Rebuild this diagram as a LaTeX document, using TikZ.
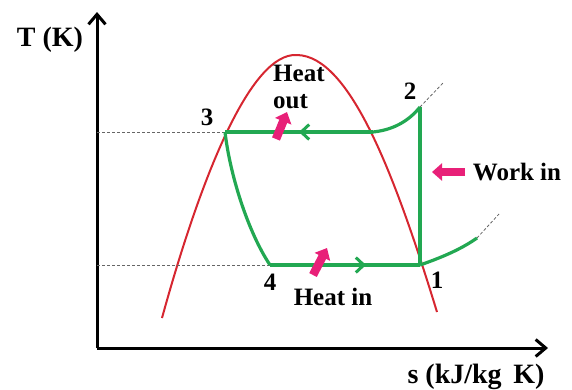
\documentclass[tikz,border=0pt]{standalone}
\usepackage{fontspec}
\setmainfont{Liberation Serif}
\usetikzlibrary{arrows.meta,decorations.markings,positioning}
\definecolor{cyclegreen}{RGB}{34,168,82}
\definecolor{domered}{RGB}{214,38,48}
\definecolor{heatpink}{RGB}{232,32,120}
\tikzset{
  axis/.style={-{Straight Barb[length=10pt,width=17pt,line width=3pt]}, line width=3pt},
  dome/.style={line width=2pt, domered},
  cycleline/.style={line width=3.2pt, cyclegreen},
  guide/.style={gray!80!black, line width=0.8pt, dash pattern=on 3pt off 2pt},
  flow/.style={-{Triangle[length=10pt,width=17pt]}, line width=8.5pt, heatpink},
  lbl/.style={font=\bfseries\fontsize{25}{27}\selectfont, inner sep=1pt},
  axlbl/.style={font=\bfseries\fontsize{28}{30}\selectfont, inner sep=1pt},
  midarrow/.style={postaction={decorate}, decoration={markings,
    mark=at position #1 with {\arrow{Straight Barb[length=8pt,width=15pt,line width=3pt]}}}},
}

\begin{document}
\begin{tikzpicture}[x=1pt,y=-1pt]
  \useasboundingbox (0,0) rectangle (572,389);

  % Axes
  \coordinate (O) at (97,348);
  \coordinate (ytop) at (97,12);
  \coordinate (xend) at (548,348);
  \draw[axis] (O) -- (ytop);
  \draw[axis] (O) -- (xend);
  \node[axlbl] (ylab) at (50,40) {T (K)};
  \node[axlbl] (xlab) at (476,377) {s (kJ/kg\, K)};

  % Saturation dome
  \coordinate (dtop) at (297,55);
  \draw[dome] (162,318) .. controls (200,180) and (250,52) .. (dtop)
    .. controls (350,56) and (395,175) .. (437,312);

  % Cycle states
  \coordinate (p1) at (420,265);
  \coordinate (p2) at (420,107);
  \coordinate (p3) at (225,132);
  \coordinate (p4) at (270,265);
  \coordinate (pg) at (373,132);
  \coordinate (pr) at (477,238);

  % Dashed guides
  \draw[guide] (O |- p3) -- (p3);
  \draw[guide] (O |- p4) -- (p4);
  \draw[guide] (p2) -- (443,83);
  \draw[guide] (pr) -- (499,214);

  % Cycle
  \draw[cycleline] (p2) -- (p1);
  \draw[cycleline] (pg) .. controls (392,130) and (408,122) .. (p2);
  \draw[cycleline, midarrow=0.5] (pg) -- (p3);
  \draw[cycleline] (p3) .. controls (230,175) and (248,232) .. (p4);
  \draw[cycleline, midarrow=0.64] (p4) -- (p1);
  \draw[cycleline] (p1) .. controls (440,258) and (460,250) .. (pr);

  % State labels
  \node[lbl] (n1) at (437,280) {1};
  \node[lbl] (n2) at (410,91) {2};
  \node[lbl] (n3) at (207,117) {3};
  \node[lbl] (n4) at (270,282) {4};

  % Heat and work
  \node[lbl, align=left, anchor=west] (hout) at (272,87) {Heat\\out};
  \node[lbl] (hin) at (333,297) {Heat in};
  \node[lbl] (win) at (517,172) {Work in};
  \draw[flow] (276,139) -- (287,112);
  \draw[flow] (313,275) -- (327,248);
  \draw[flow] (465,172) -- (432,172);
\end{tikzpicture}
\end{document}
